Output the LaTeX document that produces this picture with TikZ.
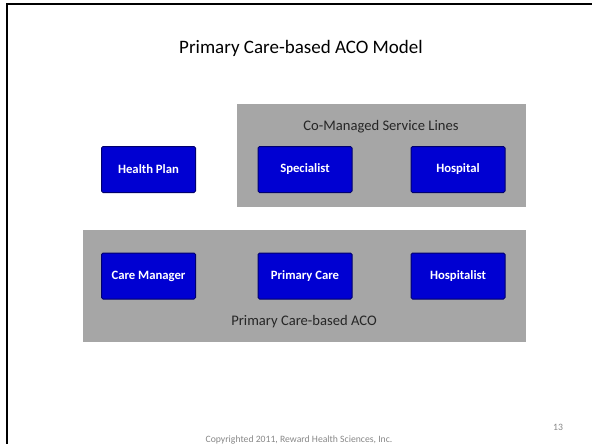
\documentclass[tikz,border=0pt]{standalone}
\usepackage{fontspec}
\setmainfont{Carlito}
\usetikzlibrary{positioning}

\definecolor{boxblue}{RGB}{0,0,210}
\definecolor{boxedge}{RGB}{0,0,110}
\definecolor{panelgray}{RGB}{166,166,166}
\definecolor{notegray}{RGB}{135,135,135}

\tikzset{
	unit/.style={rectangle, draw=boxedge, fill=boxblue, line width=1pt,
		rounded corners=1.5pt, minimum width=94pt, minimum height=46pt,
		text=white, font=\fontsize{12.7}{15}\selectfont\bfseries},
	panel/.style={fill=panelgray},
	caption/.style={anchor=base, font=\fontsize{14.6}{17}\selectfont, text=black!85},
	note/.style={anchor=base, text=notegray, font=\fontsize{9.7}{11}\selectfont}
}

\begin{document}
\begin{tikzpicture}[x=1pt, y=-1pt]

	\useasboundingbox (0, 0) rectangle (592, 444);

	% slide frame
	\draw[line width=2.5pt] (7, 444) -- (7, 4) -- (592, 4);

	\node (t0) [anchor=base, font=\fontsize{19}{22}\selectfont] at (301, 54) {Primary Care-based ACO Model};

	% grey panels
	\fill[panel] (237, 104) rectangle (526, 207);
	\fill[panel] (83, 230) rectangle (526, 342);

	\node (t1) [caption] at (381, 130) {Co-Managed Service Lines};
	\node (t2) [caption] at (304, 325) {Primary Care-based ACO};

	\node (b0) [unit] at (148.5, 169.5) {Health Plan};
	\node (b1) [unit] at (305, 169.5) {Specialist};
	\node (b2) [unit] at (458, 169.5) {Hospital};
	\node (b3) [unit] at (148.5, 276) {Care Manager};
	\node (b4) [unit] at (305, 276) {Primary Care};
	\node (b5) [unit] at (458, 276) {Hospitalist};

	\node (n0) [note] at (558, 430) {13};
	\node (n1) [note] at (299, 442) {Copyrighted 2011, Reward Health Sciences, Inc.};

\end{tikzpicture}
\end{document}
